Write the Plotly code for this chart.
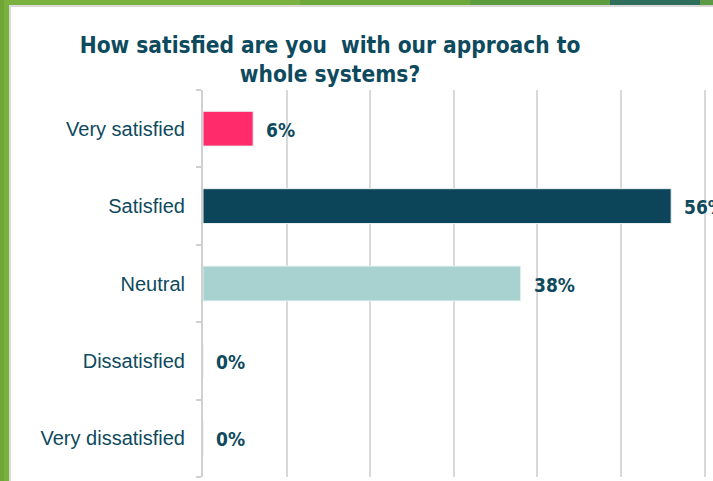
import plotly.graph_objects as go

# Survey results
categories = ["Very satisfied", "Satisfied", "Neutral", "Dissatisfied", "Very dissatisfied"]
values = [6, 56, 38, 0, 0]
labels = ["6%", "56%", "38%", "0%", "0%"]
bar_colors = ["#FF2B6B", "#0C4459", "#A7D2CF", "#A7D2CF", "#A7D2CF"]
x_ticks = [0, 10, 20, 30, 40, 50, 60]

TEXT = "#0E4A5E"
BOLD_FONT = "DejaVu Sans Condensed, Liberation Sans Narrow, Arial Narrow, sans-serif"
W, H = 713, 481
L, R, T, B = 203, 0, 90, 3.5
pw, ph = W - L - R, H - T - B


def px_x(v):
    return (v - L) / pw


def px_y(v):
    return (H - B - v) / ph


def rect(x0, x1, y0, y1, color):
    # rectangle given in page pixels (y measured from the top)
    return dict(type="rect", xref="paper", yref="paper", layer="below",
                x0=px_x(x0), x1=px_x(x1), y0=px_y(y1), y1=px_y(y0),
                fillcolor=color, line_width=0)


fig = go.Figure()
fig.add_trace(go.Bar(
    y=categories,
    x=values,
    orientation="h",
    marker=dict(color=bar_colors, line=dict(color="#E8F2F2", width=1)),
    width=0.45,
    hoverinfo="skip",
))

# value labels to the right of each bar
for c, v, t in zip(categories, values, labels):
    fig.add_annotation(
        x=v, y=c, text=t, showarrow=False, xanchor="left", yanchor="middle",
        xshift=11, yshift=-1,
        font=dict(family=BOLD_FONT, size=19, color=TEXT, weight="bold"),
    )

# white panel on a green frame
shapes = [
    rect(-5, W + 5, -5, H + 5, "#79B13E"),
    rect(9, W + 5, 5, H + 5, "#DADADA"),
    rect(11, W + 5, 7, H + 5, "white"),
    # top strip
    rect(0, 300, -5, 5, "#7BB23F"),
    rect(300, 470, -5, 5, "#6EA83B"),
    rect(470, 610, -5, 5, "#5E9C40"),
    rect(610, 700, -5, 5, "#2F6E5A"),
    rect(700, W + 5, -5, 5, "#5C9A45"),
    # left strip
    rect(-5, 4, -5, H + 5, "#6FA636"),
]

fig.update_layout(
    width=W, height=H,
    margin=dict(l=L, r=R, t=T, b=B),
    paper_bgcolor="#79B13E",
    plot_bgcolor="rgba(0,0,0,0)",
    showlegend=False,
    shapes=shapes,
    title=dict(
        text="How satisfied are you  with our approach to<br>whole systems?",
        x=330 / W, xanchor="center",
        y=1 - 53 / H, yanchor="top",
        font=dict(family=BOLD_FONT, size=22.5, color=TEXT, weight="bold"),
    ),
    xaxis=dict(
        range=[0, pw / 83.6 * 10],
        tickvals=x_ticks, showticklabels=False,
        showgrid=True, gridcolor="#D9D9D9", gridwidth=2,
        zeroline=False, showline=False, fixedrange=True,
    ),
    yaxis=dict(
        categoryorder="array", categoryarray=categories[::-1],
        tickson="boundaries", ticks="outside", ticklen=5,
        tickcolor="#D0D0D0", tickwidth=2,
        showline=True, linecolor="#D0D0D0", linewidth=2,
        showgrid=False, zeroline=False,
        tickfont=dict(family="Arial, Liberation Sans, sans-serif", size=20, color=TEXT),
        ticklabelstandoff=12,
    ),
)

fig.write_html("out.html")
